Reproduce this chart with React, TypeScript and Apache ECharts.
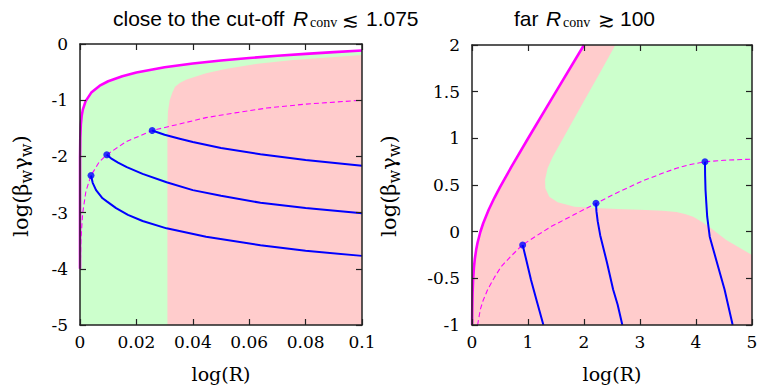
import React, { useEffect, useRef } from "react";
import * as echarts from "echarts";

type P = [number, number];

// ---------- left panel (close to cut-off) ----------
const leftSolid: P[] = [
  [0, -4], [0.00002, -2.018], [0.0001, -1.668], [0.0003, -1.43], [0.0006, -1.279],
  [0.001, -1.168], [0.002, -1.017], [0.004, -0.865], [0.007, -0.742], [0.01, -0.663],
  [0.015, -0.573], [0.02, -0.508], [0.03, -0.415], [0.04, -0.347], [0.05, -0.293],
  [0.06, -0.249], [0.07, -0.21], [0.08, -0.176], [0.09, -0.145], [0.1, -0.116],
];
const leftDashed: P[] = [
  [0.0001, -3.99], [0.0003, -3.5], [0.00095, -3.01], [0.0021, -2.62], [0.0039, -2.34],
  [0.0068, -2.1], [0.0095, -1.97], [0.0163, -1.74], [0.0256, -1.54], [0.0447, -1.31],
  [0.055, -1.225], [0.0662, -1.14], [0.08, -1.07], [0.1, -1.0],
];
const leftBlue1: P[] = [
  [0.0039, -2.34], [0.0045, -2.47], [0.0057, -2.6], [0.008, -2.745], [0.0095, -2.8],
  [0.0128, -2.92], [0.017, -3.04], [0.0222, -3.15], [0.0307, -3.28], [0.0447, -3.43],
  [0.064, -3.58], [0.08, -3.68], [0.1, -3.77],
];
const leftBlue2: P[] = [
  [0.0095, -1.97], [0.011, -2.035], [0.0135, -2.11], [0.0166, -2.19], [0.0222, -2.31],
  [0.0307, -2.46], [0.04, -2.6], [0.05, -2.7], [0.064, -2.825], [0.08, -2.92], [0.1, -3.01],
];
const leftBlue3: P[] = [
  [0.0256, -1.54], [0.03, -1.615], [0.035, -1.68], [0.04, -1.745], [0.05, -1.85],
  [0.064, -1.96], [0.08, -2.065], [0.1, -2.165],
];
const leftDots: P[] = [[0.0039, -2.34], [0.0095, -1.97], [0.0256, -1.54]];
const leftPinkEdge: P[] = [
  [0.031, -5], [0.031, -1.45], [0.0312, -1.2], [0.0318, -1.0], [0.0327, -0.87],
  [0.0337, -0.76], [0.0355, -0.69], [0.0378, -0.63], [0.0447, -0.52], [0.052, -0.44],
  [0.063, -0.35], [0.0756, -0.285], [0.1, -0.196], [0.1, -5],
];

// ---------- right panel (far) ----------
const rightSolid: P[] = [
  [0.00216, -1], [0.005, -0.816], [0.01, -0.663], [0.02, -0.508], [0.035, -0.379],
  [0.05, -0.293], [0.075, -0.192], [0.1, -0.116], [0.15, -0.001], [0.2, 0.09],
  [0.3, 0.237], [0.4, 0.363], [0.5, 0.477], [0.7, 0.691], [1.0, 0.998], [1.5, 1.5], [2.0, 2.0],
];
const rightDashed: P[] = [
  [0.1, -1.0], [0.15, -0.83], [0.2, -0.735], [0.28, -0.62], [0.4, -0.49], [0.52, -0.375],
  [0.7, -0.26], [0.9, -0.142], [1.15, -0.045], [1.41, 0.054], [1.8, 0.175], [2.214, 0.304],
  [2.6, 0.42], [3.05, 0.545], [3.4, 0.625], [3.65, 0.679], [3.9, 0.72], [4.16, 0.749],
  [4.5, 0.765], [5, 0.777],
];
const rightBlue1: P[] = [[0.905, -0.142], [0.98, -0.331], [1.054, -0.517], [1.16, -0.75], [1.275, -1.0]];
const rightBlue2: P[] = [
  [2.214, 0.304], [2.222, 0.22], [2.245, 0.11], [2.29, -0.04], [2.35, -0.185],
  [2.41, -0.33], [2.52, -0.62], [2.6, -0.78], [2.685, -1.0],
];
const rightBlue3: P[] = [
  [4.16, 0.749], [4.163, 0.6], [4.17, 0.446], [4.185, 0.3], [4.2, 0.16], [4.245, -0.054],
  [4.3, -0.172], [4.36, -0.3], [4.51, -0.62], [4.655, -1.0],
];
const rightDots: P[] = [[0.905, -0.142], [2.214, 0.304], [4.16, 0.749]];
const rightGreenEdge: P[] = [
  [2.56, 2], [2.3, 1.72], [2.0, 1.4], [1.71, 1.09], [1.44, 0.8], [1.35, 0.68], [1.305, 0.555],
  [1.31, 0.465], [1.38, 0.375], [1.53, 0.315], [1.83, 0.268], [2.3, 0.25], [2.6, 0.243],
  [3.0, 0.235], [3.4, 0.225], [3.65, 0.21], [3.8, 0.19], [3.95, 0.16], [4.1, 0.105],
  [4.245, 0.047], [4.54, -0.09], [5, -0.25], [5, 2],
];

const GREEN = "#ccffcc";
const PINK = "#ffcccc";
const MAGENTA = "#ff00ff";
const BLUE = "#0000ff";
const SERIF = "'DejaVu Serif', 'Liberation Serif', serif";
const TIMES = "'Liberation Serif', 'Times New Roman', serif";
const SANS = "'Liberation Sans', Arial, sans-serif";
const AX = "#222";

function mkAxis(gridIndex: number, position: string, min: number, max: number, interval: number, labels: boolean, isX: boolean) {
  return {
    type: "value", gridIndex, position, min, max, interval, z: 10,
    axisLine: { show: true, onZero: false, lineStyle: { color: AX, width: 1.5 } },
    axisTick: { show: true, inside: true, length: 6, lineStyle: { color: AX, width: 1.2 } },
    axisLabel: { show: labels, color: "#000", fontFamily: SERIF, fontSize: 17, margin: isX ? 8 : 12 },
    splitLine: { show: false },
  };
}

function polygon(xi: number, yi: number, pts: P[], color: string) {
  return {
    type: "custom", xAxisIndex: xi, yAxisIndex: yi, silent: true, z: 1, clip: true,
    data: pts,
    renderItem: (params: any, api: any) =>
      params.dataIndex === 0
        ? { type: "polygon", shape: { points: pts.map((p) => api.coord(p)) }, style: { fill: color } }
        : null,
  };
}

function line(xi: number, yi: number, pts: P[], color: string, width: number, dashed = false) {
  return {
    type: "line", xAxisIndex: xi, yAxisIndex: yi, data: pts, symbol: "none", showSymbol: false,
    silent: true, z: 3, clip: true,
    lineStyle: { color, width, type: dashed ? [5, 3] : "solid" },
  };
}

function dots(xi: number, yi: number, pts: P[]) {
  return {
    type: "scatter", xAxisIndex: xi, yAxisIndex: yi, data: pts, symbol: "circle", symbolSize: 7,
    itemStyle: { color: BLUE }, z: 5, silent: true,
  };
}

function txt(x: number, y: number, text: string, fontSize: number, fontFamily: string, italic = false) {
  return {
    type: "text", x, y, silent: true,
    style: { text, fontSize, fontFamily, fontStyle: italic ? "italic" : "normal", fill: "#000", align: "left", verticalAlign: "middle" },
  };
}

function yName(x: number, y: number) {
  return {
    type: "text", x, y, rotation: Math.PI / 2, silent: true,
    style: {
      text: "{n|log(β}{s|w}{n|γ}{s|w}{n|)}",
      align: "center", verticalAlign: "middle",
      rich: {
        n: { fontSize: 21, fontFamily: SERIF, fill: "#000", lineHeight: 26 },
        s: { fontSize: 16, fontFamily: SERIF, fill: "#000", lineHeight: 26, verticalAlign: "bottom" },
      },
    },
  };
}

function xName(x: number, y: number) {
  return {
    type: "text", x, y, silent: true,
    style: { text: "log(R)", fontSize: 19, fontFamily: SERIF, fill: "#000", align: "center", verticalAlign: "middle" },
  };
}

export default function App() {
  const ref = useRef<HTMLDivElement>(null);
  useEffect(() => {
    document.body.style.margin = "0";
    if (!ref.current) return;
    const chart = echarts.init(ref.current, undefined, { renderer: "svg" });
    chart.setOption({
      animation: false,
      backgroundColor: "#fff",
      grid: [
        { left: 80, top: 44, width: 282, height: 281 },
        { left: 472, top: 45, width: 280, height: 280 },
      ],
      xAxis: [
        mkAxis(0, "bottom", 0, 0.1, 0.02, true, true),
        mkAxis(0, "top", 0, 0.1, 0.02, false, true),
        mkAxis(1, "bottom", 0, 5, 1, true, true),
        mkAxis(1, "top", 0, 5, 1, false, true),
      ],
      yAxis: [
        mkAxis(0, "left", -5, 0, 1, true, false),
        mkAxis(0, "right", -5, 0, 1, false, false),
        mkAxis(1, "left", -1, 2, 0.5, true, false),
        mkAxis(1, "right", -1, 2, 0.5, false, false),
      ],
      series: [
        polygon(0, 0, [[0, -5], ...leftSolid, [0.1, -5]], GREEN),
        polygon(0, 0, leftPinkEdge, PINK),
        line(0, 0, leftSolid, MAGENTA, 2.6),
        line(0, 0, leftDashed, MAGENTA, 1.1, true),
        line(0, 0, leftBlue1, BLUE, 2),
        line(0, 0, leftBlue2, BLUE, 2),
        line(0, 0, leftBlue3, BLUE, 2),
        dots(0, 0, leftDots),
        polygon(2, 2, [[0, -1], ...rightSolid, [5, 2], [5, -1]], PINK),
        polygon(2, 2, rightGreenEdge, GREEN),
        line(2, 2, rightSolid, MAGENTA, 2.6),
        line(2, 2, rightDashed, MAGENTA, 1.1, true),
        line(2, 2, rightBlue1, BLUE, 2),
        line(2, 2, rightBlue2, BLUE, 2),
        line(2, 2, rightBlue3, BLUE, 2),
        dots(2, 2, rightDots),
      ],
      graphic: [
        txt(113, 18, "close to the cut-off", 21, SANS),
        txt(293, 18, "R", 21, SANS, true),
        txt(310, 22, "conv", 14, TIMES),
        txt(342, 20, "≲", 20, "'DejaVu Sans', sans-serif"),
        txt(366, 18, "1.075", 21, SANS),
        txt(514, 18, "far", 21, SANS),
        txt(546, 18, "R", 21, SANS, true),
        txt(563, 22, "conv", 14, TIMES),
        txt(598, 20, "≳", 20, "'DejaVu Sans', sans-serif"),
        txt(620, 18, "100", 21, SANS),
        xName(221, 374),
        xName(612, 374),
        yName(21, 186),
        yName(389, 186),
      ],
    });
    return () => chart.dispose();
  }, []);
  return <div ref={ref} style={{ width: 762, height: 386 }} />;
}
